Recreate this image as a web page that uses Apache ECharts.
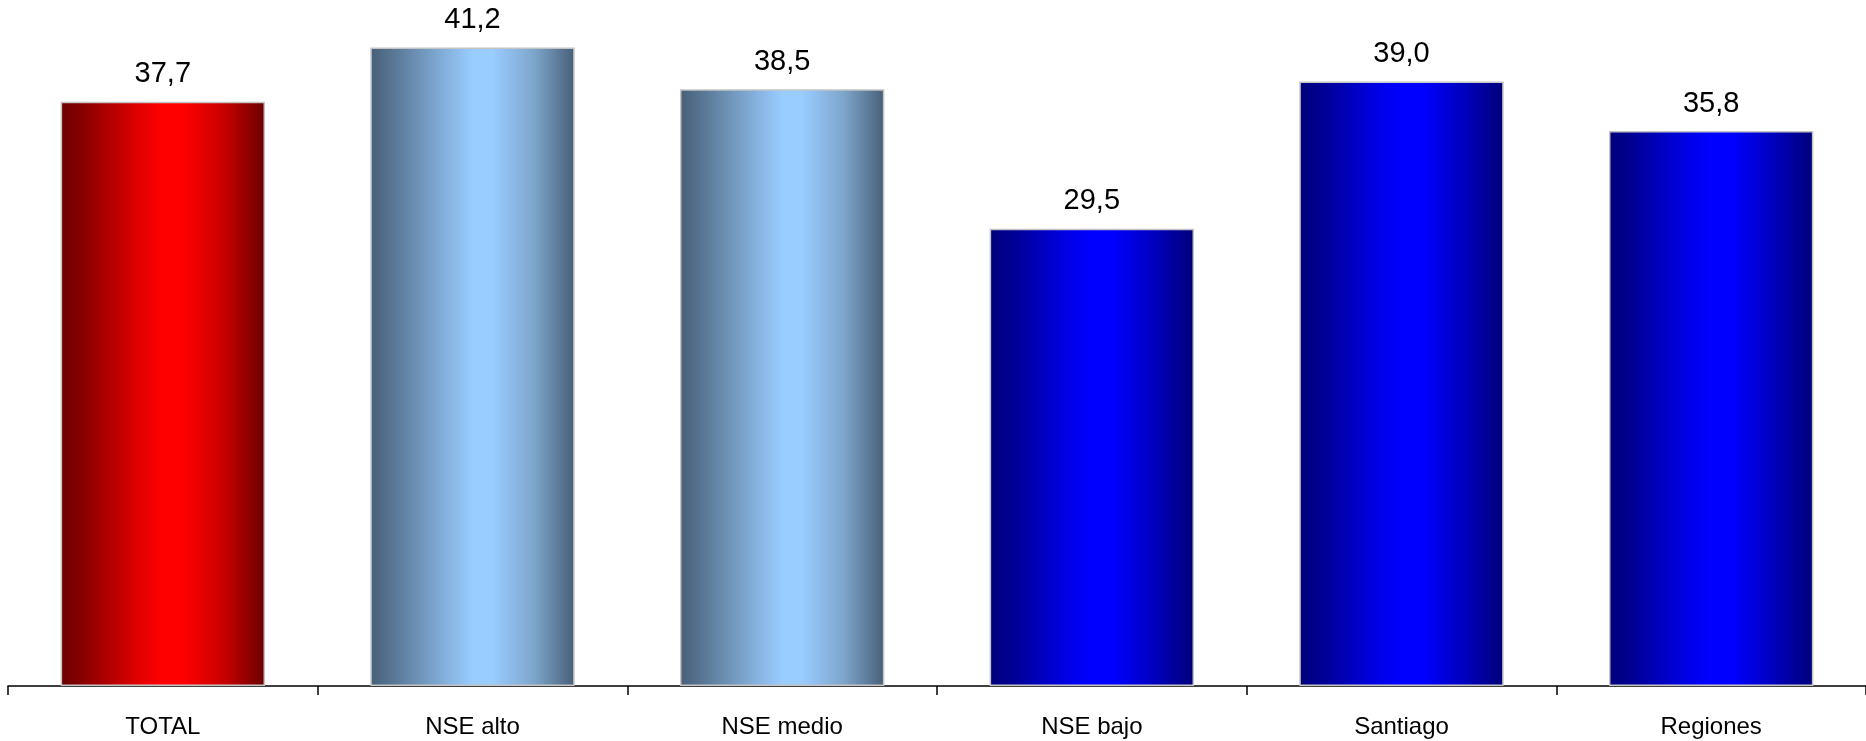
<!DOCTYPE html>
<html>
<head>
<meta charset="utf-8">
<script src="https://cdn.jsdelivr.net/npm/echarts@6/dist/echarts.min.js"></script>
<style>
html,body{margin:0;padding:0;background:#fff;}
#c{width:1866px;height:741px;}
</style>
</head>
<body>
<div id="c"></div>
<script>
const categories = ['TOTAL', 'NSE alto', 'NSE medio', 'NSE bajo', 'Santiago', 'Regiones'];
const values = [37.7, 41.2, 38.5, 29.5, 39.0, 35.8];
const groups = ['total', 'nse', 'nse', 'blue', 'blue', 'blue'];

const palettes = {
  total: ['#6a0000', '#8c0000', '#e00000', '#ff0000', '#ff0000', '#c80000', '#6a0000'],
  nse:   ['#475f78', '#5a7896', '#86b3e0', '#99ccff', '#99ccff', '#7ea6cc', '#475f78'],
  blue:  ['#00007a', '#000096', '#0000e6', '#0000ff', '#0000ff', '#0000c0', '#00007a']
};
const stopPos = [0, 0.12, 0.38, 0.5, 0.6, 0.8, 1];
function grad(key) {
  return new echarts.graphic.LinearGradient(0, 0, 1, 0,
    palettes[key].map((c, i) => ({ offset: stopPos[i], color: c })));
}

const chart = echarts.init(document.getElementById('c'));
chart.setOption({
  animation: false,
  grid: { left: 8, right: 0, top: 4, bottom: 55, containLabel: false },
  xAxis: {
    type: 'category',
    data: categories,
    axisLine: { lineStyle: { color: '#000', width: 1.5 } },
    axisTick: { show: true, length: 9, lineStyle: { color: '#000', width: 1.5 } },
    axisLabel: { color: '#000', fontFamily: 'Liberation Sans', fontSize: 24, margin: 29 }
  },
  yAxis: {
    type: 'value', min: 0, max: 44, show: false, splitLine: { show: false }
  },
  series: [{
    type: 'bar',
    barCategoryGap: '34%',
    data: values.map((v, i) => ({
      value: v,
      itemStyle: { color: grad(groups[i]), borderColor: '#c4c4c4', borderWidth: 1.5 }
    })),
    label: {
      show: true, position: 'top', distance: 13,
      color: '#000', fontFamily: 'Liberation Sans', fontSize: 29,
      formatter: p => p.value.toFixed(1).replace('.', ',')
    }
  }]
});
</script>
</body>
</html>
